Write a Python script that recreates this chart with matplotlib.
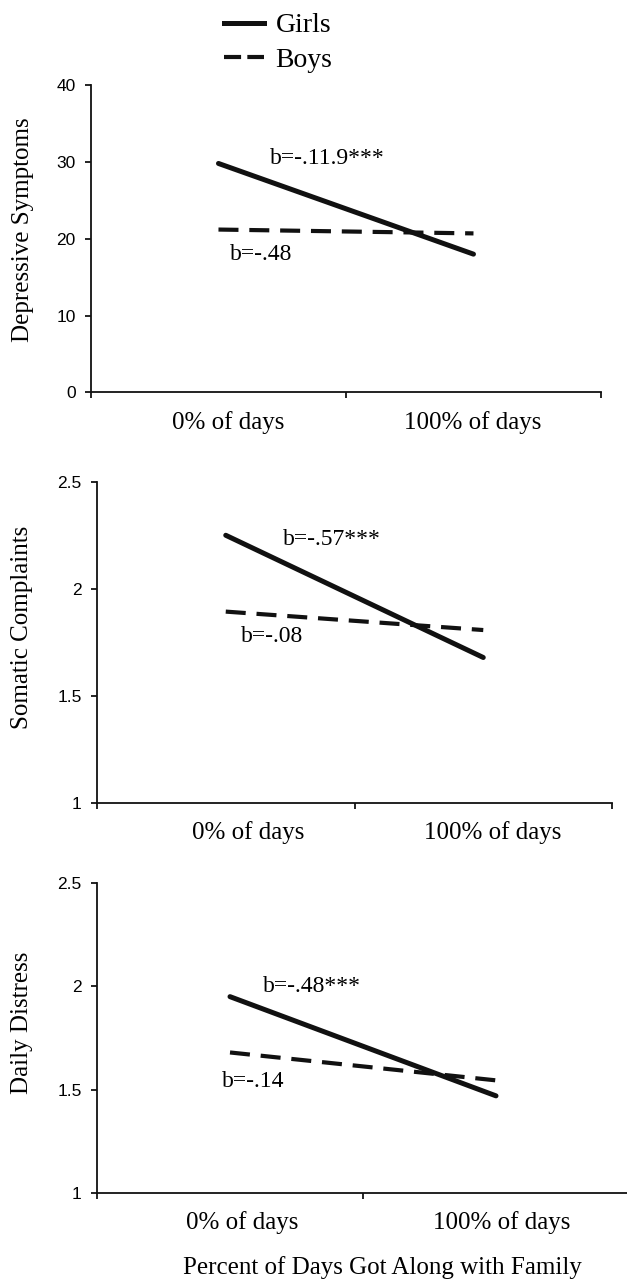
import matplotlib
matplotlib.use('Agg')
import matplotlib.pyplot as plt
import matplotlib.transforms as mtransforms
from matplotlib.lines import Line2D

plt.rcParams['font.family'] = 'Liberation Serif'

# categories on the x axis
cats = ['0% of days', '100% of days']

# predicted values, girls and boys, for the three outcomes
dep_girls = [29.8, 18.0]
dep_boys = [21.2, 20.7]
som_girls = [2.25, 1.68]
som_boys = [1.894, 1.808]
dis_girls = [1.95, 1.47]
dis_boys = [1.68, 1.545]

# slope labels
dep_txt = ['b=-.11.9***', 'b=-.48']
som_txt = ['b=-.57***', 'b=-.08']
dis_txt = ['b=-.48***', 'b=-.14']

ylabels = ['Depressive Symptoms', 'Somatic Complaints', 'Daily Distress']

fig = plt.figure(figsize=(6.27, 12.81), dpi=100)
ax1 = fig.add_axes([0.1451, 0.6936, 0.8134, 0.2400])
ax2 = fig.add_axes([0.1547, 0.3729, 0.8214, 0.2511])
ax3 = fig.add_axes([0.1547, 0.0687, 0.8485, 0.2420])

x = [0, 1]
panels = [
    (ax1, dep_girls, dep_boys, dep_txt, [0, 10, 20, 30, 40], ['0', '10', '20', '30', '40'],
     (0, 40), [(0.202, 30.4), (0.045, 18.0)], (-0.112, 0.528)),
    (ax2, som_girls, som_boys, som_txt, [1, 1.5, 2, 2.5], ['1', '1.5', '2', '2.5'],
     (1, 2.5), [(0.222, 2.228), (0.059, 1.78)], (-0.124, 0.548)),
    (ax3, dis_girls, dis_boys, dis_txt, [1, 1.5, 2, 2.5], ['1', '1.5', '2', '2.5'],
     (1, 2.5), [(0.124, 1.998), (-0.03, 1.539)], (-0.120, 0.548)),
]

for i, (ax, g, b, txt, yt, ytl, ylim, tpos, lblpos) in enumerate(panels):
    ax.plot(x, g, color='#111111', lw=3.6, solid_capstyle='round', label='Girls')
    ax.plot(x, b, color='#111111', lw=3.0, dashes=(4.8, 2.6), label='Boys')
    ax.set_xlim(-0.5, 1.5)
    ax.set_ylim(*ylim)
    ax.spines['top'].set_visible(False)
    ax.spines['right'].set_visible(False)
    ax.spines['left'].set_linewidth(1.3)
    ax.spines['bottom'].set_linewidth(1.3)
    ax.spines['left'].set_color('#111111')
    ax.spines['bottom'].set_color('#111111')
    ax.set_yticks(yt)
    ax.set_yticklabels(ytl, family='Liberation Sans', fontsize=12.5)
    ax.tick_params(axis='y', direction='out', length=4.5, width=1.2, pad=6.5)
    ax.set_xticks(x)
    ax.set_xticklabels(cats, fontsize=18)
    ax.set_xticks([-0.5, 0.5, 1.5], minor=True)
    ax.tick_params(axis='x', which='major', length=0, pad=13)
    ax.tick_params(axis='x', which='minor', direction='out', length=4, width=1.2)
    # labels sit a bit right of the category centres
    shifts = [12, 6] if i > 0 else [10, -1]
    if i == 1:
        shifts = [22, 9]
    for lab, dx in zip(ax.get_xticklabels(), shifts):
        lab.set_transform(lab.get_transform() +
                          mtransforms.ScaledTranslation(dx / 100, 0, fig.dpi_scale_trans))
    ax.set_ylabel(ylabels[i], fontsize=18)
    ax.yaxis.set_label_coords(*lblpos)
    for t, (tx, ty) in zip(txt, tpos):
        ax.text(tx, ty, t, fontsize=17, ha='left', va='center')

fig.text(382 / 627, 1 - 1268 / 1281, 'Percent of Days Got Along with Family',
         fontsize=18, ha='center', va='center')

# legend keys: boys key shows two dashes like the original
handles = [Line2D([], [], color='#111111', lw=3.6),
           Line2D([], [], color='#111111', lw=3.0, dashes=(4.1, 1.5))]
fig.legend(handles, ['Girls', 'Boys'], loc='upper left',
           bbox_to_anchor=(224 / 627, 1 - 13 / 1281), frameon=False,
           fontsize=20, handlelength=1.45, handletextpad=0.4,
           labelspacing=0.33, borderpad=0, borderaxespad=0)

fig.savefig('out.png', dpi=100)
